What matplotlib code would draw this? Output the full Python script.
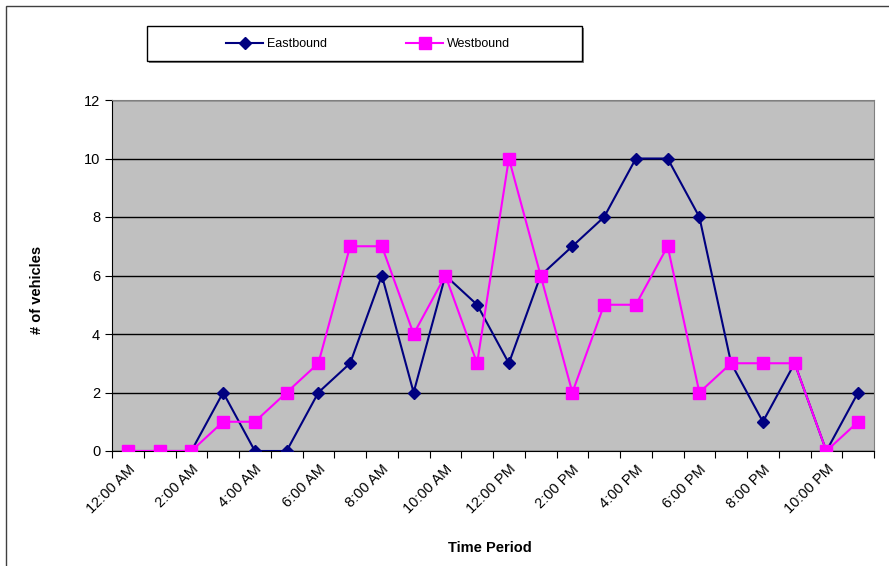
import matplotlib.pyplot as plt
from matplotlib.patches import Rectangle
import numpy as np

# Hourly vehicle counts
hours = ['12:00 AM', '1:00 AM', '2:00 AM', '3:00 AM', '4:00 AM', '5:00 AM',
         '6:00 AM', '7:00 AM', '8:00 AM', '9:00 AM', '10:00 AM', '11:00 AM',
         '12:00 PM', '1:00 PM', '2:00 PM', '3:00 PM', '4:00 PM', '5:00 PM',
         '6:00 PM', '7:00 PM', '8:00 PM', '9:00 PM', '10:00 PM', '11:00 PM']
eastbound = [0, 0, 0, 2, 0, 0, 2, 3, 6, 2, 6, 5, 3, 6, 7, 8, 10, 10, 8, 3, 1, 3, 0, 2]
westbound = [0, 0, 0, 1, 1, 2, 3, 7, 7, 4, 6, 3, 10, 6, 2, 5, 5, 7, 2, 3, 3, 3, 0, 1]

W, H = 889, 566
fig = plt.figure(figsize=(W / 100, H / 100), dpi=100)
plt.rcParams['font.family'] = ['Liberation Sans', 'DejaVu Sans']

# outer chart border (runs off the image on right/bottom)
fig.patches.append(Rectangle((6 / W, -0.1), 1.2, 1 - 6 / H + 0.1,
                             transform=fig.transFigure, fill=False,
                             edgecolor='#404040', linewidth=1.0))

ax = fig.add_axes([112 / W, 1 - 451 / H, (874 - 112) / W, (451 - 100) / H])
ax.set_facecolor('#C0C0C0')

x = np.arange(len(hours))
ax.plot(x, eastbound, color='#000080', marker='D', markersize=6, linewidth=1.5,
        label='Eastbound', zorder=3)
ax.plot(x, westbound, color='#FF00FF', marker='s', markersize=8, linewidth=1.5,
        label='Westbound', zorder=3)

ax.set_xlim(-0.5, len(hours) - 0.5)
ax.set_ylim(0, 12)
ax.set_yticks(range(0, 13, 2))
ax.yaxis.grid(True, color='black', linewidth=1.0)
ax.set_axisbelow(True)

# ticks at category boundaries, labels at every other category center
ax.set_xticks(np.arange(-0.5, len(hours), 1))
ax.set_xticklabels([])
ax.set_xticks(x[::2], minor=True)
ax.set_xticklabels(hours[::2], minor=True, rotation=45, ha='right',
                   rotation_mode='anchor', fontsize=10.5)
ax.tick_params(axis='x', which='minor', length=0, pad=8)
ax.tick_params(axis='x', which='major', length=5, direction='out')
ax.tick_params(axis='y', length=5, labelsize=10.5)

for s in ['top', 'right']:
    ax.spines[s].set_color('#808080')
ax.spines['left'].set_color('black')
ax.spines['bottom'].set_color('black')

ax.set_xlabel('Time Period', fontweight='bold', fontsize=10.5)
ax.set_ylabel('# of vehicles', fontweight='bold', fontsize=10.5)
ax.xaxis.set_label_coords((490 - 112) / (874 - 112), -(541 - 451) / (451 - 100))
ax.yaxis.set_label_coords(-(112 - 44) / (874 - 112), (451 - 290) / (451 - 100))

# legend box with shadow
lx0, ly0, lx1, ly1 = 147, 26, 582, 61
fig.patches.append(Rectangle(((lx0 + 2) / W, 1 - (ly1 + 2) / H), (lx1 - lx0) / W,
                             (ly1 - ly0) / H, transform=fig.transFigure,
                             facecolor='#808080', edgecolor='none', zorder=1))
fig.patches.append(Rectangle((lx0 / W, 1 - ly1 / H), (lx1 - lx0) / W,
                             (ly1 - ly0) / H, transform=fig.transFigure,
                             facecolor='white', edgecolor='black', linewidth=1.0,
                             zorder=2))
leg = fig.legend(loc='center', bbox_to_anchor=(368 / W, 1 - 44 / H),
                 ncol=2, frameon=False, fontsize=9, handlelength=3.0,
                 columnspacing=6.3, handletextpad=0.3)
leg.set_zorder(5)

fig.savefig('out.png', dpi=100)
